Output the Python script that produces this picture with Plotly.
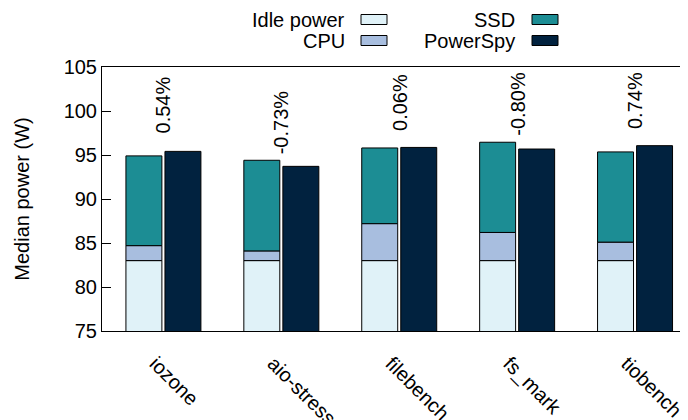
import plotly.graph_objects as go

# ---- data ----
benchmarks = ["iozone", "aio-stress", "filebench", "fs_mark", "tiobench"]
idle_power = [83.0, 83.0, 83.0, 83.0, 83.0]
cpu_power = [1.7, 1.1, 4.2, 3.2, 2.1]
ssd_power = [10.2, 10.3, 8.6, 10.25, 10.25]
powerspy = [95.41, 93.71, 95.86, 95.68, 96.06]
error_labels = ["0.54%", "-0.73%", "0.06%", "-0.80%", "0.74%"]
error_label_y = [100.68, 98.75, 100.94, 100.85, 101.14]

# ---- style ----
C_IDLE = "#e0f2f8"
C_CPU = "#a8bedf"
C_SSD = "#1c8d94"
C_PS = "#01223f"
FONT = "Liberation Sans, Arial, Helvetica, sans-serif"
FS = 20

W, H = 688, 420
PAGE_OFF = 8  # page body margin
# plot area in window pixels: left 102, right 694, top 67, bottom 331
ML = 102 - PAGE_OFF
MT = 67 - PAGE_OFF
MB = H - (331 - PAGE_OFF)
MR = W - (694 - PAGE_OFF)
PW, PH = W - ML - MR, H - MT - MB

BAR_W = 0.305
OFF_MODEL = -0.318
OFF_PS = 0.013

xs = list(range(len(benchmarks)))
base_cpu = list(idle_power)
base_ssd = [a + b for a, b in zip(idle_power, cpu_power)]

fig = go.Figure()
line = dict(color="black", width=1)
fig.add_trace(go.Bar(x=xs, y=idle_power, base=[0] * len(xs), name="Idle power",
                     marker=dict(color=C_IDLE, line=line), width=BAR_W, offset=OFF_MODEL))
fig.add_trace(go.Bar(x=xs, y=cpu_power, base=base_cpu, name="CPU",
                     marker=dict(color=C_CPU, line=line), width=BAR_W, offset=OFF_MODEL))
fig.add_trace(go.Bar(x=xs, y=ssd_power, base=base_ssd, name="SSD",
                     marker=dict(color=C_SSD, line=line), width=BAR_W, offset=OFF_MODEL))
fig.add_trace(go.Bar(x=xs, y=powerspy, base=[0] * len(xs), name="PowerSpy",
                     marker=dict(color=C_PS, line=line), width=BAR_W, offset=OFF_PS))

annotations = []
for i, (t, yy) in enumerate(zip(error_labels, error_label_y)):
    annotations.append(dict(x=i, y=yy, xref="x", yref="y", text=t, showarrow=False,
                            textangle=-90, font=dict(family=FONT, size=FS, color="black"),
                            xanchor="center", yanchor="middle"))

# manual gnuplot-style legend (text right-aligned, swatch to the right)
def px_to_paper(px, py):
    px -= PAGE_OFF
    py -= PAGE_OFF
    return (px - ML) / PW, (H - MB - py) / PH

legend_items = [("Idle power", C_IDLE, 347, 361, 19.5), ("CPU", C_CPU, 347, 361, 40.5),
                ("SSD", C_SSD, 517, 532, 19.5), ("PowerSpy", C_PS, 517, 532, 40.5)]
shapes = []
for name, col, tx, sx, cy in legend_items:
    ax, ay = px_to_paper(tx, cy)
    annotations.append(dict(x=ax, y=ay, xref="paper", yref="paper", text=name,
                            showarrow=False, xanchor="right", yanchor="middle",
                            font=dict(family=FONT, size=FS, color="black")))
    x0, y0 = px_to_paper(sx, cy + 5)
    x1, y1 = px_to_paper(sx + 26, cy - 5)
    shapes.append(dict(type="rect", xref="paper", yref="paper", x0=x0, x1=x1, y0=y0, y1=y1,
                       fillcolor=col, line=dict(color="black", width=1)))

fig.update_layout(
    width=W, height=H,
    margin=dict(l=ML, r=MR, t=MT, b=MB, pad=0, autoexpand=False),
    paper_bgcolor="white", plot_bgcolor="white",
    barmode="overlay", showlegend=False,
    font=dict(family=FONT, size=FS, color="black"),
    annotations=annotations, shapes=shapes,
    xaxis=dict(range=[-0.521, 4.5], tickmode="array", tickvals=xs, ticktext=benchmarks,
               tickangle=45, showline=True, linecolor="black", linewidth=1, mirror=True,
               ticks="", showgrid=False, zeroline=False, ticklabeloverflow="allow",
               ticklabelstandoff=12, ticklabelshift=-8, automargin=False,
               tickfont=dict(family=FONT, size=FS, color="black")),
    yaxis=dict(range=[75, 105], dtick=5, tick0=75, ticks="inside", ticklen=9,
               tickcolor="black", showline=True, linecolor="black", linewidth=1,
               mirror="ticks", showgrid=False, zeroline=False, automargin=False,
               title=dict(text="Median power (W)", standoff=28,
                          font=dict(family=FONT, size=FS, color="black")),
               tickfont=dict(family=FONT, size=FS, color="black")),
)

fig.write_html("out.html")
